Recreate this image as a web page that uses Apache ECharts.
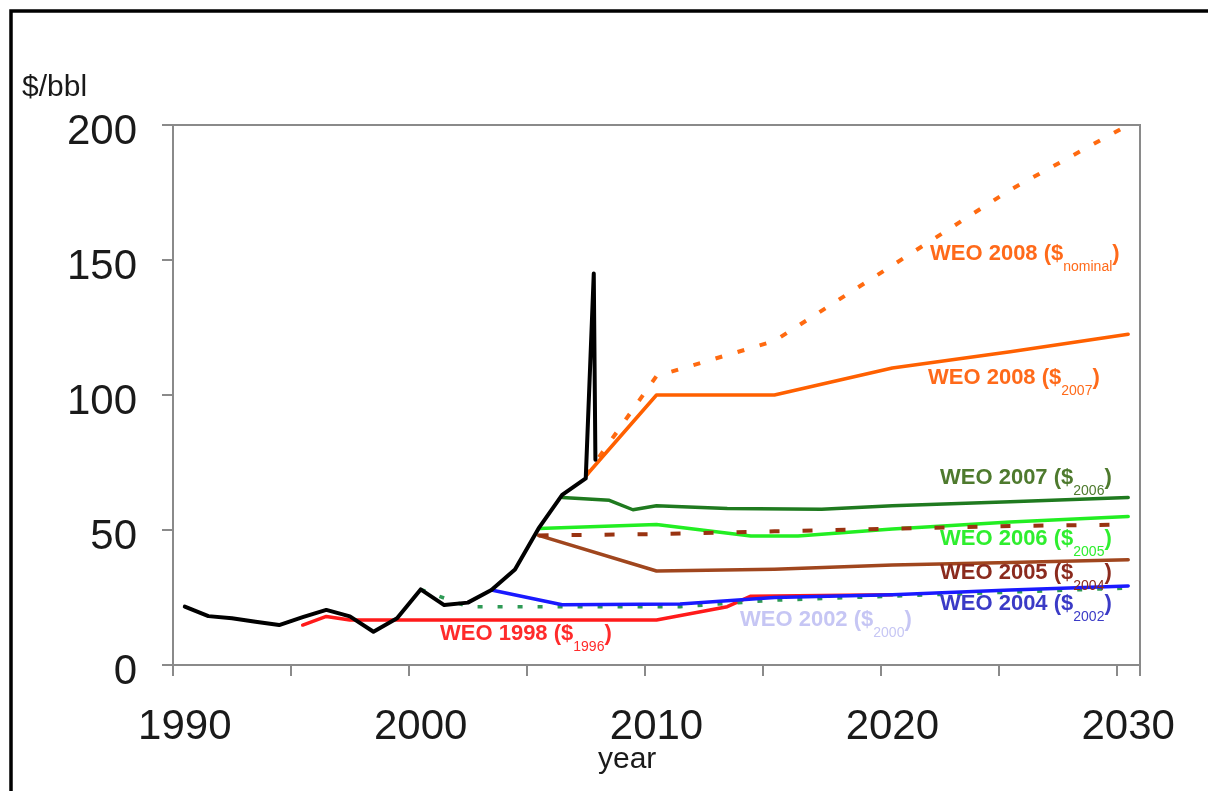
<!DOCTYPE html>
<html><head><meta charset="utf-8">
<script src="https://cdn.jsdelivr.net/npm/echarts@6/dist/echarts.min.js"></script>
<style>html,body{margin:0;padding:0;background:#fff}#c{width:1208px;height:791px}</style>
</head><body><div id="c"></div>
<script>
// ---------- DATA ----------
const FIRST_YEAR = 1990, LAST_YEAR = 2030;
const yearLabels = [];
for (let y = FIRST_YEAR; y <= LAST_YEAR; y++) yearLabels.push(String(y));
const yTickValues = [0, 50, 100, 150, 200];

// historical price (annual averages, plotted mid-year)
const histYears  = [1990,1991,1992,1993,1994,1995,1996,1997,1998,1999,2000,2001,2002,2003,2004,2005,2006,2007,2007.34,2007.41];
const histValues = [21.6,18.1,17.3,16.0,14.8,17.7,20.4,18.0,12.3,17.3,28.0,22.2,23.1,27.8,35.4,50.6,63.0,69.1,145,76];

const weo1998Years  = [1995,1996,1997,2010,2013,2014,2020];
const weo1998Values = [14.8,18.0,16.7,16.7,21.6,25.5,26.0];

const weo2002Years  = [2000,2002,2011,2015,2020,2025,2030];
const weo2002Values = [28.0,21.6,21.6,24.0,25.5,27.0,28.5];

const weo2004Years  = [2003,2006,2011,2013,2015,2020,2025,2030];
const weo2004Values = [27.8,22.3,22.6,23.8,25.0,26.0,27.8,29.3];

const weo2005Years  = [2005,2010,2015,2020,2025,2030];
const weo2005Values = [48.0,34.8,35.5,37.0,38.0,39.0];

const weo2005dYears  = [2005,2010,2015,2020,2025,2030];
const weo2005dValues = [48.0,48.5,49.5,50.5,51.5,52.0];

const weo2006Years  = [2005,2010,2014,2016,2020,2025,2030];
const weo2006Values = [50.6,52.0,47.8,47.8,50.4,53.0,55.0];

const weo2007Years  = [2006,2008,2009,2010,2013,2017,2020,2025,2030];
const weo2007Values = [62.0,61.0,57.5,59.0,58.0,57.7,59.0,60.5,62.0];

const weo2008rYears  = [2007,2010,2015,2020,2025,2030];
const weo2008rValues = [70,100,100,110,116,122.5];

const weo2008nYears  = [2007,2010,2015,2020,2025,2030];
const weo2008nValues = [70,107,120,148,176,200];

// ---------- CHART ----------
const MID = 0.5; // annual values are drawn at the middle of each year band
const pts = (ys, vs) => ys.map((y, i) => [y + MID, vs[i]]);
const FONT = "'Liberation Sans', Arial, sans-serif";

function line(name, ys, vs, color, width, type, z) {
  return {
    name, type: 'line', xAxisIndex: 1, data: pts(ys, vs), symbol: 'none',
    smooth: false, z: z, silent: true,
    lineStyle: { color, width, type: type || 'solid', cap: type ? 'butt' : 'round', join: 'round' }
  };
}

const labels = [
  ['WEO 2008 ($', 'nominal', '#ff6a1a', 930, 255],
  ['WEO 2008 ($', '2007',    '#ff6a1a', 928, 379],
  ['WEO 2007 ($', '2006',    '#4e7a2e', 940, 479],
  ['WEO 2006 ($', '2005',    '#2fee2f', 940, 540],
  ['WEO 2005 ($', '2004',    '#8b2b1e', 940, 574],
  ['WEO 2004 ($', '2002',    '#3b3bc6', 940, 605],
  ['WEO 2002 ($', '2000',    '#c6c6f4', 740, 621],
  ['WEO 1998 ($', '1996',    '#ff2b2b', 440, 635]
];

const graphics = [
  { type: 'polyline', shape: { points: [[11, 791], [11, 11], [1208, 11]] },
    style: { stroke: '#000', lineWidth: 3.5, fill: null }, z: 100 },
  { type: 'text', x: 22, y: 73, style: { text: '$/bbl', font: '30px ' + FONT, fill: '#1a1a1a' } },
  { type: 'text', x: 598, y: 745, style: { text: 'year', font: '30px ' + FONT, fill: '#1a1a1a' } }
];
labels.forEach(([t, s, c, x, cy]) => {
  graphics.push({
    type: 'text', x: x, y: cy - 12, z: 50,
    style: {
      text: '{m|' + t + '}{s|' + s + '}{m|)}',
      fill: c,
      rich: {
        m: { fontSize: 22, fontWeight: 'bold', fontFamily: FONT, lineHeight: 26, verticalAlign: 'top', fill: c },
        s: { fontSize: 14, fontFamily: FONT, lineHeight: 14, padding: [17, 0, 0, 0], verticalAlign: 'top', fill: c }
      }
    }
  });
});

const axisGray = '#8a8a8a';
const option = {
  animation: false,
  backgroundColor: '#fff',
  grid: { left: 173, top: 125, right: 68, bottom: 126, show: true, borderColor: axisGray, borderWidth: 2 },
  xAxis: [
    { type: 'category', data: yearLabels, boundaryGap: true,
      axisLine: { show: true, lineStyle: { color: axisGray, width: 2 } },
      axisTick: { show: true, interval: 4, length: 11, lineStyle: { color: axisGray, width: 2 } },
      axisLabel: { interval: 9, fontSize: 42, fontFamily: FONT, color: '#1a1a1a', margin: 41 },
      splitLine: { show: false } },
    { type: 'value', min: FIRST_YEAR, max: LAST_YEAR + 1, show: false, splitLine: { show: false } }
  ],
  yAxis: {
    type: 'value', min: yTickValues[0], max: yTickValues[yTickValues.length - 1],
    interval: yTickValues[1] - yTickValues[0],
    axisLine: { show: true, lineStyle: { color: axisGray, width: 2 } },
    axisTick: { show: true, length: 11, lineStyle: { color: axisGray, width: 2 } },
    axisLabel: { fontSize: 42, fontFamily: FONT, color: '#1a1a1a', margin: 36, verticalAlign: 'top', lineHeight: 42, padding: [-14, 0, 0, 0] },
    splitLine: { show: false }
  },
  series: [
    line('WEO 1998', weo1998Years, weo1998Values, '#ff1a1a', 3.5, null, 2),
    line('WEO 2002', weo2002Years, weo2002Values, '#2e9a55', 3.5, [5, 15], 3),
    line('WEO 2004', weo2004Years, weo2004Values, '#1a1aff', 3.5, null, 4),
    line('WEO 2005', weo2005Years, weo2005Values, '#a0461e', 3.5, null, 5),
    line('WEO 2006', weo2006Years, weo2006Values, '#22ee22', 3.5, null, 6),
    line('WEO 2005 d', weo2005dYears, weo2005dValues, '#993311', 4, [10, 23], 7),
    line('WEO 2007', weo2007Years, weo2007Values, '#1f7a1f', 3.5, null, 8),
    line('WEO 2008 nominal', weo2008nYears, weo2008nValues, '#ff6a10', 4, [7, 16], 9),
    line('WEO 2008 real', weo2008rYears, weo2008rValues, '#ff6000', 3.5, null, 10),
    line('Historical', histYears, histValues, '#000000', 4, null, 11)
  ],
  graphic: graphics
};
const chart = echarts.init(document.getElementById('c'), null, { renderer: 'canvas' });
chart.setOption(option);
</script></body></html>
